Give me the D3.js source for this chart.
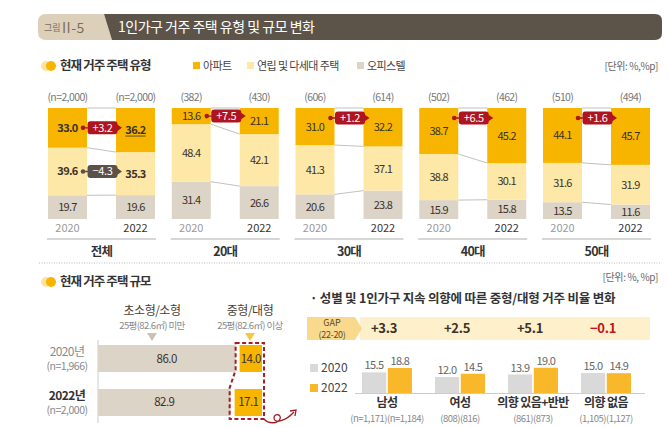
<!DOCTYPE html>
<html><head><meta charset="utf-8">
<script src="https://cdn.jsdelivr.net/npm/d3@7"></script>
<style>body{margin:0;background:#fff}svg{display:block;font-family:'Noto Sans CJK KR','Noto Sans',sans-serif}</style>
</head><body><svg id="c" width="669" height="428"></svg>
<script>
// ---------- data ----------
const groups = ["전체","20대","30대","40대","50대"];
const years = ["2020","2022"];
const types = ["아파트","연립 및 다세대 주택","오피스텔"];
const apt2020 = [33.0,13.6,31.0,38.7,44.1];
const apt2022 = [36.2,21.1,32.2,45.2,45.7];
const row2020 = [39.6,48.4,41.3,38.8,31.6];
const row2022 = [35.3,42.1,37.1,30.1,31.9];
const off2020 = [19.7,31.4,20.6,15.9,13.5];
const off2022 = [19.6,26.6,23.8,15.8,11.6];
const n2020 = ["(n=2,000)","(382)","(606)","(502)","(510)"];
const n2022 = ["(n=2,000)","(430)","(614)","(462)","(494)"];
const aptChange = ["+3.2","+7.5","+1.2","+6.5","+1.6"];
const rowChangeTotal = "−4.3";

const sizeRows = ["2020년","2022년"];
const sizeN = ["(n=1,966)","(n=2,000)"];
const sizeCats = ["초소형/소형","중형/대형"];
const sizeSub = ["25평(82.6㎡) 미만","25평(82.6㎡) 이상"];
const smallShare = [86.0, 82.9];
const largeShare = [14.0, 17.1];

const subCats = ["남성","여성","의향 있음+반반","의향 없음"];
const subN = ["(n=1,171)(n=1,184)","(808)(816)","(861)(873)","(1,105)(1,127)"];
const sub2020 = [15.5,12.0,13.9,15.0];
const sub2022 = [18.8,14.5,19.0,14.9];
const gapLabels = ["+3.3","+2.5","+5.1","−0.1"];

// ---------- style ----------
const C = {apt:'#f8b500', row:'#fde8a8', off:'#ddd4c8', red:'#ae1520', dark:'#5b5148', text:'#3b3228', gray:'#8f8f8f'};
const svg = d3.select('#c');
function txt(x,y,s,o){
  o=o||{};
  const t=svg.append('text').attr('x',x).attr('y',y).text(s)
    .attr('font-size',o.size||11).attr('fill',o.fill||C.text)
    .attr('text-anchor',o.anchor||'start')
    .attr('font-weight',o.weight||'normal')
    .attr('letter-spacing',o.ls!==undefined?o.ls:-0.5);
  return t;
}

// ---------- title ----------
svg.append('path').attr('d','M46,14 H104 L112,40 H46 Q38,40 38,32 V22 Q38,14 46,14 Z').attr('fill','#ddd0bb');
svg.append('path').attr('d','M104,14 H655 Q662,14 662,21 V33 Q662,40 655,40 H112 Z').attr('fill','#5d5449');
txt(44,31,'그림',{size:9,fill:'#7d6d58',ls:0});
txt(62,33,'II-5',{size:14,fill:'#7d6d58',ls:0.5});
txt(118,32,'1인가구 거주 주택 유형 및 규모 변화',{size:14,fill:'#fff',ls:-0.5});

function icon(x,y){
  svg.append('circle').attr('cx',x).attr('cy',y).attr('r',5).attr('fill','#fde3a3');
  svg.append('circle').attr('cx',x+5).attr('cy',y).attr('r',5).attr('fill',C.apt);
}

// ---------- section 1 ----------
icon(46,66);
txt(60,70,'현재 거주 주택 유형',{size:12.5,weight:'bold',fill:'#333',ls:-0.9});
const legX=[193,247,357], legC=[C.apt,C.row,C.off];
types.forEach((t,i)=>{
  svg.append('rect').attr('x',legX[i]).attr('y',62).attr('width',7).attr('height',7).attr('fill',legC[i]);
  txt(legX[i]+10,70,t,{size:11,fill:'#444',ls:-0.6});
});
txt(658,70,'[단위: %,%p]',{size:10,fill:'#666',anchor:'end',ls:-0.4});

const gx = d3.scaleBand().domain(groups).range([48,650]).paddingInner(0.1354).paddingOuter(0);
const yx = d3.scaleBand().domain(years).range([0,gx.bandwidth()]).paddingInner(0.4265);
const bw = yx.bandwidth();
const barTop=108, barBot=219;

function badge(x0,x1,y,label,col){
  svg.append('line').attr('x1',x0).attr('x2',x1-4).attr('y1',y).attr('y2',y).attr('stroke',col).attr('stroke-width',1.3);
  svg.append('circle').attr('cx',x0).attr('cy',y).attr('r',2.3).attr('fill',col);
  svg.append('path').attr('d',`M${x1-5},${y-3.5} L${x1},${y} L${x1-5},${y+3.5} Z`).attr('fill',col);
  const cx=(x0+x1)/2;
  svg.append('rect').attr('x',cx-15).attr('y',y-6.5).attr('width',30).attr('height',13).attr('rx',3).attr('fill',col);
  txt(cx,y+4,label,{size:11,fill:'#fff',anchor:'middle',ls:-0.3});
}

groups.forEach((g,i)=>{
  const vals={"2020":[off2020[i],row2020[i],apt2020[i]],"2022":[off2022[i],row2022[i],apt2022[i]]};
  const cols=[C.off,C.row,C.apt];
  const info={};
  years.forEach(yr=>{
    const v=vals[yr], tot=d3.sum(v);
    const y=d3.scaleLinear().domain([0,tot]).range([barBot,barTop]);
    const x=gx(g)+yx(yr);
    let cum=0; const cums=[0];
    v.forEach((d,k)=>{
      svg.append('rect').attr('x',x).attr('width',bw).attr('y',y(cum+d)).attr('height',y(cum)-y(cum+d)).attr('fill',cols[k]);
      const bold = i===0 && k>0;
      const t=txt(x+bw/2,(y(cum)+y(cum+d))/2+4,d.toFixed(1),{size:11,anchor:'middle',weight:bold?'bold':'normal',ls:-0.7});
      if(i===0 && k===2 && yr==='2022'){
        const L=t.node().getComputedTextLength();
        svg.append('line').attr('x1',x+bw/2-L/2).attr('x2',x+bw/2+L/2).attr('y1',(y(cum)+y(cum+d))/2+6).attr('y2',(y(cum)+y(cum+d))/2+6).attr('stroke',C.text).attr('stroke-width',0.8);
      }
      cum+=d; cums.push(cum);
    });
    info[yr]={x,y,cums};
    txt(x+bw/2,101,yr==='2020'?n2020[i]:n2022[i],{size:10.5,fill:'#777',anchor:'middle',ls:-0.6});
    txt(x+bw/2,232,yr,{size:11,fill:yr==='2020'?'#9a9a9a':'#333',anchor:'middle',ls:0});
  });
  [1,2,3].forEach(k=>{
    svg.append('line').attr('x1',info['2020'].x+bw).attr('x2',info['2022'].x)
      .attr('y1',info['2020'].y(info['2020'].cums[k])).attr('y2',info['2022'].y(info['2022'].cums[k]))
      .attr('stroke','#b5b0a8').attr('stroke-width',0.8);
  });
  const a=info['2020'];
  const segC=(a.y(a.cums[2])+a.y(a.cums[3]))/2;
  const by = i===0 ? segC : Math.min(segC, barTop+10);
  badge(a.x+bw-4, info['2022'].x+6, by, aptChange[i], C.red);
  if(i===0){
    const rc=(a.y(a.cums[1])+a.y(a.cums[2]))/2;
    badge(a.x+bw-4, info['2022'].x+6, rc, rowChangeTotal, C.dark);
  }
  svg.append('line').attr('x1',gx(g)-1).attr('x2',gx(g)+gx.bandwidth()+1).attr('y1',239).attr('y2',239).attr('stroke','#999').attr('stroke-width',0.8);
  txt(gx(g)+gx.bandwidth()/2,256,g,{size:12.5,weight:'bold',fill:'#333',anchor:'middle',ls:-0.8});
});

svg.append('line').attr('x1',39).attr('x2',661).attr('y1',263).attr('y2',263).attr('stroke','#bbb').attr('stroke-dasharray','1,1.5');

// ---------- section 2 ----------
icon(46,282);
txt(60,286,'현재 거주 주택 규모',{size:12.5,weight:'bold',fill:'#333',ls:-0.9});

const xs=d3.scaleLinear().domain([0,100]).range([98,258]);
const ys=d3.scaleBand().domain(sizeRows).range([345,416]).paddingInner(0.386).paddingOuter(0);
const hdrX=[152,250], triC=['#cbc2b5','#f8c640'];
sizeCats.forEach((c,i)=>{
  txt(hdrX[i],315,c,{size:12,fill:'#4a4038',anchor:'middle',ls:-0.5});
  txt(hdrX[i],329,sizeSub[i],{size:9.5,fill:'#888',anchor:'middle',ls:-0.6});
  svg.append('path').attr('d',`M${hdrX[i]-5},333 L${hdrX[i]+5},333 L${hdrX[i]},341 Z`).attr('fill',triC[i]);
});
svg.append('line').attr('x1',98).attr('x2',98).attr('y1',340).attr('y2',423).attr('stroke','#ccc');
sizeRows.forEach((r,i)=>{
  const y0=ys(r), h=ys.bandwidth();
  svg.append('rect').attr('x',xs(0)).attr('y',y0).attr('width',xs(smallShare[i])-xs(0)).attr('height',h).attr('fill','#ddd4c8');
  svg.append('rect').attr('x',xs(smallShare[i])+4).attr('y',y0).attr('width',xs(100)-xs(smallShare[i])).attr('height',h).attr('fill',C.apt);
  txt((xs(0)+xs(smallShare[i]))/2,y0+h/2+4,smallShare[i].toFixed(1),{size:11.5,anchor:'middle',ls:-0.5});
  txt((xs(smallShare[i])+4+xs(100)+4)/2,y0+h/2+4,largeShare[i].toFixed(1),{size:11.5,anchor:'middle',ls:-0.6});
  const bold=i===1;
  txt(67,y0+11,r,{size:12,fill:bold?'#333':'#8a8a8a',weight:bold?'bold':'normal',anchor:'middle',ls:-0.6});
  txt(67,y0+25,sizeN[i],{size:10.5,fill:'#888',anchor:'middle',ls:-0.5});
});
{
  const L0=xs(smallShare[0]), L1=xs(smallShare[1])-1, R=xs(100)+6;
  const t=ys(sizeRows[0])-2, m0=ys(sizeRows[0])+ys.bandwidth()-2, m1=ys(sizeRows[1])-1, b=ys(sizeRows[1])+ys.bandwidth()+3;
  svg.append('path').attr('d',`M${L0},${t} H${R} V${b} H${L1} V${m1} L${L0},${m0} Z`)
    .attr('fill','none').attr('stroke','#a41e25').attr('stroke-width',2).attr('stroke-dasharray','4,2.5');
  svg.append('path').attr('d',`M${R},${b} C${R+4},${b+5} ${R+14},${b+5} ${R+16},${b} C${R+18},${b-5} ${R+10},${b-6} ${R+10},${b-1} C${R+10},${b+5} ${R+22},${b+2} ${R+30},${b-7}`)
    .attr('fill','none').attr('stroke','#a41e25').attr('stroke-width',1.3);
  svg.append('path').attr('d',`M${R+26},${b-8} L${R+32},${b-9} L${R+31},${b-3}`).attr('fill','none').attr('stroke','#a41e25').attr('stroke-width',1.3);
}

// ---------- right sub chart ----------
txt(658,281,'[단위: %, %p]',{size:10,fill:'#666',anchor:'end',ls:-0.4});
txt(310,303,'· 성별 및 1인가구 지속 의향에 따른 중형/대형 거주 비율 변화',{size:12.5,weight:'bold',fill:'#333',ls:-0.2});
svg.append('rect').attr('x',360).attr('y',317).attr('width',290).attr('height',23).attr('fill','#fdf0cb');
svg.append('path').attr('d','M307,317 H355 L362,328.5 L355,340 H307 Z').attr('fill','#f9d98c');
txt(332,326,'GAP',{size:9,fill:'#5a4a30',anchor:'middle',ls:0});
txt(332,337.5,'(22-20)',{size:9,fill:'#5a4a30',anchor:'middle',ls:-0.3});

const sx=d3.scaleBand().domain(subCats).range([362,631]).paddingInner(0.315).paddingOuter(0);
const sxi=d3.scaleBand().domain(years).range([0,sx.bandwidth()]).paddingInner(0.06);
const sy=d3.scaleLinear().domain([0,20]).range([393,366.4]);
const subCol={"2020":'#d9d9d9',"2022":'#f9b82a'};
years.forEach((yr,i)=>{
  svg.append('rect').attr('x',310).attr('y',364+i*20).attr('width',8).attr('height',8).attr('fill',subCol[yr]);
  txt(321,372+i*20,yr,{size:12,fill:'#444',ls:0});
});
subCats.forEach((c,i)=>{
  const cx=sx(c)+sx.bandwidth()/2;
  txt(cx-3,333,gapLabels[i],{size:13,weight:'bold',fill:gapLabels[i].startsWith('−')?'#c0141e':C.text,anchor:'middle',ls:-0.3});
  [sub2020[i],sub2022[i]].forEach((v,k)=>{
    const yr=years[k], x=sx(c)+sxi(yr);
    svg.append('rect').attr('x',x).attr('width',sxi.bandwidth()).attr('y',sy(v)).attr('height',sy(0)-sy(v)).attr('fill',subCol[yr]);
    txt(x+sxi.bandwidth()/2,sy(v)-3,v.toFixed(1),{size:11,fill:'#666',anchor:'middle',ls:-0.6});
  });
  txt(cx,407,c,{size:12,weight:'bold',fill:'#333',anchor:'middle',ls:-0.6});
  txt(cx,422,subN[i],{size:9.5,fill:'#888',anchor:'middle',ls:-0.5});
});
svg.append('line').attr('x1',355).attr('x2',645).attr('y1',393.5).attr('y2',393.5).attr('stroke','#ccc');
</script></body></html>
